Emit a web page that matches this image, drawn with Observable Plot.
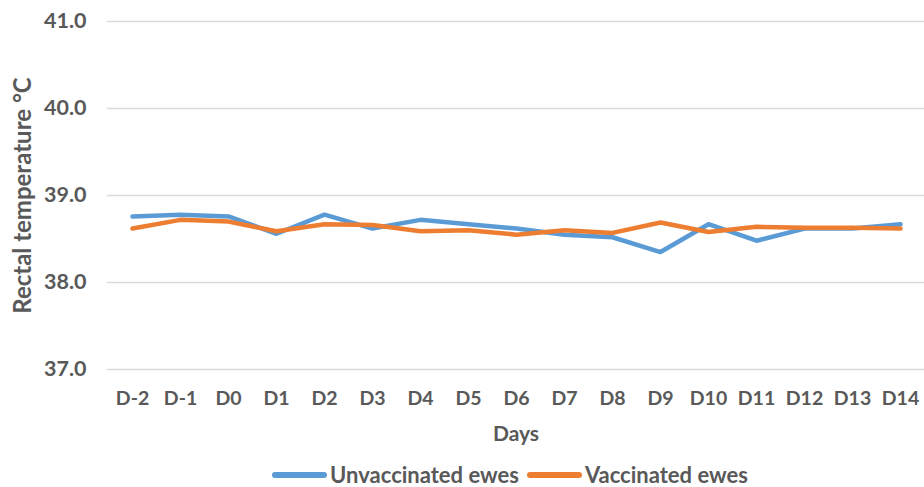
<!DOCTYPE html>
<html>
<head>
<meta charset="utf-8">
<script src="https://cdn.jsdelivr.net/npm/d3@7"></script>
<script src="https://cdn.jsdelivr.net/npm/@observablehq/plot@0.6"></script>
<style>
  html, body { margin: 0; padding: 0; background: #fff; }
  body { width: 924px; height: 487px; overflow: hidden; font-family: Lato, "Open Sans", sans-serif; }
  #legend { position: absolute; left: 0; top: 465px; height: 20px; width: 924px; display: flex; justify-content: center; align-items: center; gap: 8px; padding-left: 96px; box-sizing: border-box;
    font: bold 22px/20px Lato, sans-serif; color: #595959; }
  .item { display: flex; align-items: center; height: 20px; }
  .item span { display: inline-block; height: 20px; line-height: 20px; }
  .sw { width: 55px; height: 6px; border-radius: 3px; margin-right: 3px; }
</style>
</head>
<body>
<div id="chart"></div>
<div id="legend"></div>
<script>
const days = ["D-2","D-1","D0","D1","D2","D3","D4","D5","D6","D7","D8","D9","D10","D11","D12","D13","D14"];
const unvaccinated = [38.76,38.78,38.76,38.56,38.78,38.62,38.72,38.67,38.62,38.55,38.52,38.35,38.67,38.48,38.62,38.62,38.67];
const vaccinated   = [38.62,38.72,38.70,38.59,38.67,38.66,38.59,38.60,38.55,38.60,38.57,38.69,38.58,38.64,38.63,38.63,38.62];
const yTicks = [37, 38, 39, 40, 41];
const seriesNames = ["Unvaccinated ewes", "Vaccinated ewes"];
const colors = ["#5b9bd5", "#ed7d31"];
const xTitle = "Days";
const yTitle = "Rectal temperature °C";

const data = [];
days.forEach((d, i) => {
  data.push({day: d, value: unvaccinated[i], series: seriesNames[0]});
  data.push({day: d, value: vaccinated[i], series: seriesNames[1]});
});

const chart = Plot.plot({
  width: 924,
  height: 455,
  marginLeft: 107,
  marginRight: 0,
  marginTop: 21,
  marginBottom: 86,
  style: {fontFamily: "Lato, sans-serif", fontWeight: "bold", fontSize: "19px", color: "#595959", background: "#fff"},
  x: {type: "point", domain: days, padding: 0.5},
  y: {domain: [37, 41]},
  color: {domain: seriesNames, range: colors},
  marks: [
    Plot.ruleY(yTicks, {stroke: "#d9d9d9", strokeWidth: 1.3, strokeOpacity: 1}),
    Plot.axisX({tickSize: 0, tickPadding: 22, label: null, fontSize: 19.5}),
    Plot.axisY({ticks: yTicks, tickFormat: d3.format(".1f"), tickSize: 0, tickPadding: 21, label: null, fontSize: 21.5}),
    Plot.text([xTitle], {frameAnchor: "bottom", dy: 71, fontSize: 21, fontWeight: "bold", fill: "#595959"}),
    Plot.text([yTitle], {frameAnchor: "left", textAnchor: "middle", dx: -84, rotate: -90, fontSize: 24, fontWeight: "bold", fill: "#595959"}),
    Plot.line(data, {x: "day", y: "value", z: "series", stroke: "series", strokeWidth: 4.5, strokeLinejoin: "round", strokeLinecap: "round"})
  ]
});
document.getElementById("chart").appendChild(chart);

const legend = document.getElementById("legend");
seriesNames.forEach((n, i) => {
  const it = document.createElement("div");
  it.className = "item";
  it.innerHTML = `<div class="sw" style="background:${colors[i]}"></div><span>${n}</span>`;
  legend.appendChild(it);
});
</script>
</body>
</html>
